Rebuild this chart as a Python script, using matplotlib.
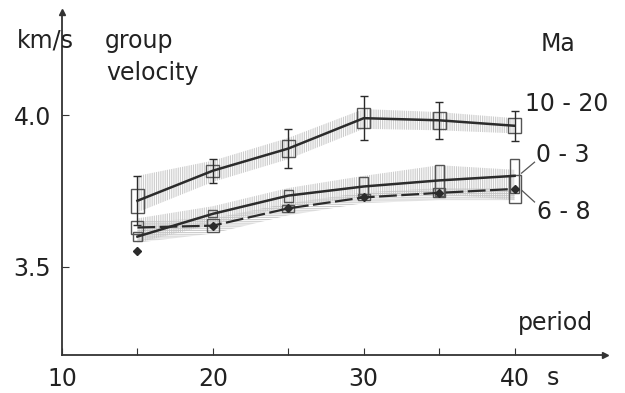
import numpy as np
import matplotlib
matplotlib.use('Agg')
import matplotlib.pyplot as plt

# period [s]
period = [15, 20, 25, 30, 35, 40]

# group velocity [km/s], age 10-20 Ma
v_old = [3.718, 3.817, 3.890, 3.990, 3.983, 3.965]
v_old_box = [0.040, 0.020, 0.028, 0.033, 0.028, 0.025]
v_old_err = [0.080, 0.040, 0.063, 0.072, 0.061, 0.050]
v_old_lo = [3.68, 3.78, 3.855, 3.955, 3.950, 3.940]
v_old_hi = [3.80, 3.85, 3.925, 4.020, 4.010, 3.990]

# age 0-3 Ma
v_young = [3.600, 3.675, 3.735, 3.765, 3.785, 3.800]
v_young_box = [0.015, 0.012, 0.020, 0.030, 0.050, 0.055]
v_young_lo = [3.58, 3.64, 3.70, 3.73, 3.74, 3.72]
v_young_hi = [3.66, 3.70, 3.76, 3.80, 3.835, 3.82]

# age 6-8 Ma
v_mid = [3.630, 3.636, 3.693, 3.729, 3.744, 3.757]
v_mid_pts = [3.553, 3.636, 3.693, 3.729, 3.744, 3.757]
v_mid_box = [0.022, 0.022, 0.012, 0.010, 0.015, 0.045]
v_mid_lo = [3.58, 3.61, 3.67, 3.71, 3.72, 3.72]
v_mid_hi = [3.65, 3.66, 3.71, 3.745, 3.76, 3.76]

line_c = '#2b2b2b'
hatch_c = '#c4c4c4'

plt.rcParams['hatch.linewidth'] = 0.6
fig = plt.figure(figsize=(6.25, 3.93), dpi=100)
ax = fig.add_axes([0.0992, 0.0967, 0.869, 0.873])

ax.fill_between(period, v_old_lo, v_old_hi, facecolor='none', edgecolor=hatch_c,
                hatch='|||||||||', linewidth=0)
ax.fill_between(period, v_young_lo, v_young_hi, facecolor='none', edgecolor=hatch_c,
                hatch='|||||||||', linewidth=0)
ax.fill_between(period, v_mid_lo, v_mid_hi, facecolor='none', edgecolor=hatch_c,
                hatch='---------', linewidth=0)

# boxes
ax.bar(period, 2 * np.array(v_old_box), bottom=np.array(v_old) - np.array(v_old_box),
       width=0.85, fill=False, edgecolor='#555555', linewidth=1.0)
ax.bar(period, 2 * np.array(v_young_box), bottom=np.array(v_young) - np.array(v_young_box),
       width=0.6, fill=False, edgecolor='#555555', linewidth=1.0)
ax.bar(period, 2 * np.array(v_mid_box), bottom=np.array(v_mid) - np.array(v_mid_box),
       width=0.8, fill=False, edgecolor='#555555', linewidth=1.0)

ax.errorbar(period, v_old, yerr=v_old_err, fmt='none', ecolor=line_c, elinewidth=1.0,
            capsize=3, capthick=1.0)
ax.plot(period, v_old, '-', color=line_c, linewidth=1.8)
ax.plot(period, v_young, '-', color=line_c, linewidth=1.8)
ax.plot(period, v_mid, '--', color=line_c, linewidth=1.6, dashes=(8, 2))
ax.plot(period, v_mid_pts, 'D', color=line_c, markersize=4)

ax.set_xlim(10, 46)
ax.set_ylim(3.21, 4.34)
for s in ['top', 'right']:
    ax.spines[s].set_visible(False)
for s in ['left', 'bottom']:
    ax.spines[s].set_color('#333333')
    ax.spines[s].set_linewidth(1.3)
ax.plot(1, 0, '>', color='#333333', markersize=5, transform=ax.transAxes, clip_on=False)
ax.plot(0, 1, '^', color='#333333', markersize=5, transform=ax.transAxes, clip_on=False)

ax.set_xticks([10, 20, 30, 40])
ax.set_xticks([15, 25, 35], minor=True)
ax.set_yticks([3.5, 4.0])
ax.set_yticklabels(['3.5', '4.0'])
ax.tick_params(axis='both', which='both', direction='in', length=5, width=0.8,
               colors='#333333', labelsize=17, labelcolor='#222222')
ax.tick_params(axis='x', pad=9)
ax.tick_params(axis='y', pad=8)

fs = 17
tc = '#222222'
fig.text(45 / 625, 1 - 41 / 393, 'km/s', fontsize=fs, color=tc, ha='center', va='center')
fig.text(105 / 625, 1 - 41 / 393, 'group', fontsize=fs, color=tc, ha='left', va='center')
fig.text(106 / 625, 1 - 73 / 393, 'velocity', fontsize=fs, color=tc, ha='left', va='center')
fig.text(558 / 625, 1 - 44 / 393, 'Ma', fontsize=fs, color=tc, ha='center', va='center')
fig.text(567 / 625, 1 - 104 / 393, '10 - 20', fontsize=fs, color=tc, ha='center', va='center')
fig.text(563 / 625, 1 - 155 / 393, '0 - 3', fontsize=fs, color=tc, ha='center', va='center')
fig.text(564 / 625, 1 - 212 / 393, '6 - 8', fontsize=fs, color=tc, ha='center', va='center')
fig.text(555 / 625, 1 - 323 / 393, 'period', fontsize=fs, color=tc, ha='center', va='center')
fig.text(553 / 625, 1 - 378 / 393, 's', fontsize=fs, color=tc, ha='center', va='center')

# leader lines to the labels
ax.plot([40.46, 41.32], [3.809, 3.845], color='#555555', linewidth=0.9, clip_on=False)
ax.plot([40.46, 41.32], [3.753, 3.714], color='#555555', linewidth=0.9, clip_on=False)

plt.savefig('out.png')
